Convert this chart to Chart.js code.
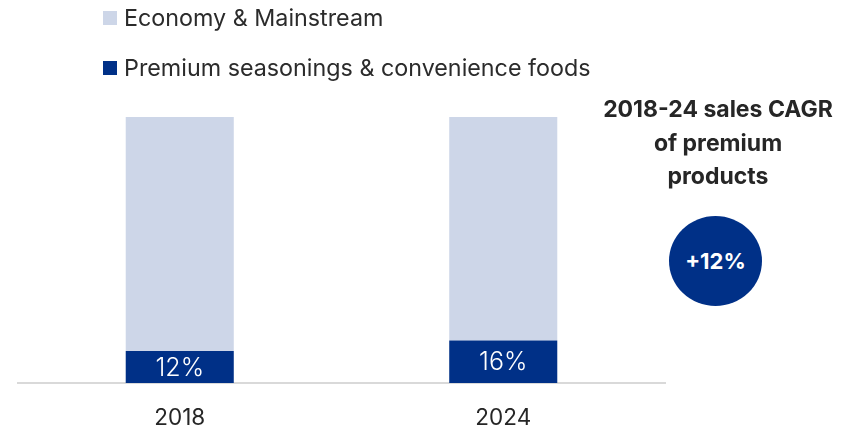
<!DOCTYPE html>
<html>
<head>
<meta charset="utf-8">
<script src="https://cdn.jsdelivr.net/npm/chart.js@4"></script>
<style>
  html,body{margin:0;padding:0;background:#fff;font-family:Inter,"Noto Sans",sans-serif;}
  #wrap{position:relative;width:854px;height:431px;overflow:hidden}
  #chart{position:absolute;left:0;top:0}
  .leg{position:absolute;left:103px;font-size:23.3px;color:#2b2b2b;display:flex;align-items:center;white-space:nowrap;font-weight:400}
  .leg i{display:inline-block;width:14px;height:14px;margin-right:7px}
  #note{position:absolute;left:588px;top:93px;width:260px;text-align:center;font-weight:700;font-size:23px;line-height:33.5px;color:#262626}
  #badge{position:absolute;left:669px;top:216px;width:93px;height:90px;border-radius:50%;background:#003087;color:#fff;font-weight:700;font-size:22px;display:flex;align-items:center;justify-content:center}
</style>
</head>
<body>
<div id="wrap">
  <canvas id="chart" width="854" height="431"></canvas>
  <div id="legend"></div>
  <div id="note">2018-24 sales CAGR<br>of premium<br>products</div>
  <div id="badge">+12%</div>
</div>
<script>
const years = ['2018', '2024'];
const premium = [12, 16];
const economy = [88, 84];
const seriesNames = ['Economy & Mainstream', 'Premium seasonings & convenience foods'];
const colors = ['#cdd6e8', '#003087'];

// legend rows, economy first like the stack reads top-down
const leg = document.getElementById('legend');
seriesNames.forEach((name, i) => {
  const d = document.createElement('div');
  d.className = 'leg';
  d.style.top = (i === 0 ? 3 : 53) + 'px';
  d.innerHTML = `<i style="background:${colors[i]}"></i>${name}`;
  leg.appendChild(d);
});

// white % labels inside the premium segment
const segLabels = {
  id: 'segLabels',
  afterDatasetsDraw(chart) {
    const ctx = chart.ctx;
    const meta = chart.getDatasetMeta(0);
    ctx.save();
    ctx.fillStyle = '#fff';
    ctx.font = '300 25px Inter';
    ctx.textAlign = 'center';
    ctx.textBaseline = 'middle';
    meta.data.forEach((bar, i) => {
      const y = (bar.y + bar.base) / 2;
      ctx.fillText(premium[i] + '%', bar.x, y + 1);
    });
    ctx.restore();
  }
};

new Chart(document.getElementById('chart'), {
  type: 'bar',
  data: {
    labels: years,
    datasets: [
      { label: seriesNames[1], data: premium, backgroundColor: colors[1] },
      { label: seriesNames[0], data: economy, backgroundColor: colors[0] }
    ]
  },
  options: {
    responsive: false,
    animation: false,
    layout: { padding: { top: 117, right: 189, left: 18, bottom: 0 } },
    datasets: { bar: { categoryPercentage: 1, barPercentage: 0.334 } },
    plugins: { legend: { display: false }, tooltip: { enabled: false } },
    scales: {
      x: {
        stacked: true,
        grid: { display: false, drawTicks: false },
        border: { display: true, color: '#d9d9d9', width: 2 },
        ticks: { color: '#262626', font: { family: 'Inter', size: 22.5 }, padding: 22 },
        afterFit: s => { s.height = 48; }
      },
      y: { stacked: true, min: 0, max: 100, display: false }
    }
  },
  plugins: [segLabels]
});
</script>
</body>
</html>
